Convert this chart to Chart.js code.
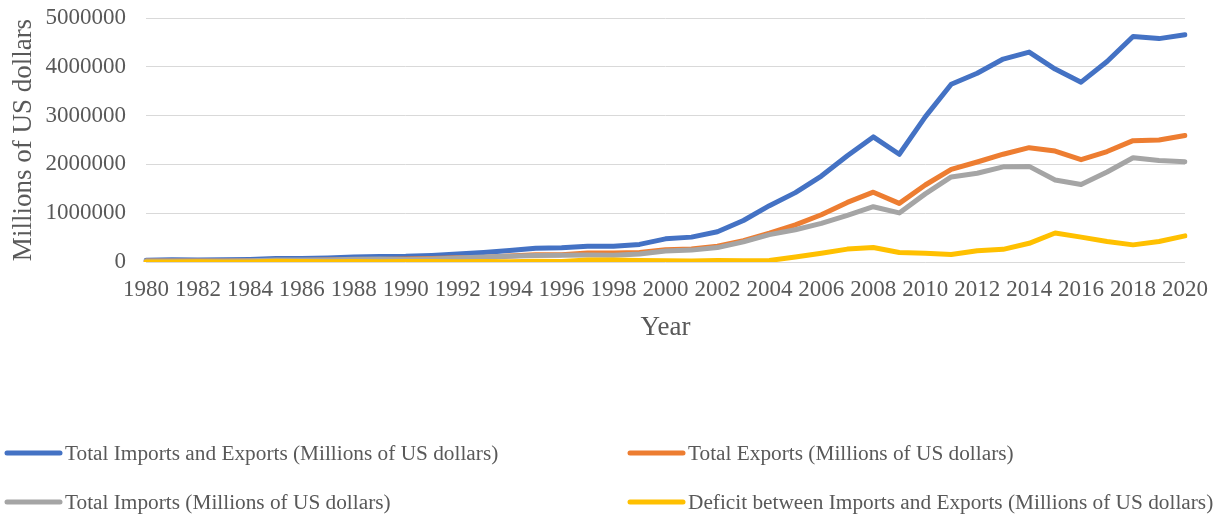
<!DOCTYPE html>
<html>
<head>
<meta charset="utf-8">
<script src="https://cdn.jsdelivr.net/npm/chart.js@4.4.0/dist/chart.umd.min.js"></script>
<style>
  html, body { margin: 0; padding: 0; background: #fff; }
  #wrap { width: 1218px; height: 516px; position: relative; }
</style>
</head>
<body>
<div id="wrap"><canvas id="trade"></canvas></div>
<script>
const years = [];
for (let y = 1980; y <= 2020; y++) years.push(String(y));

// Millions of US dollars
const totalTrade = [38136, 44022, 41606, 43616, 53549, 69602, 73846, 82653, 102791, 111678,
  115436, 135634, 165525, 195703, 236620, 280864, 289881, 325162, 323949, 360630,
  474297, 509651, 620766, 850988, 1154554, 1421906, 1760438, 2176175, 2563255, 2207535,
  2974001, 3641864, 3867119, 4158993, 4301527, 3953033, 3685557, 4107138, 4622444, 4577891,
  4655906];
const exportsData = [18119, 22007, 22321, 22226, 26139, 27350, 30942, 39437, 47516, 52538,
  62091, 71843, 84940, 91744, 121006, 148780, 151048, 182792, 183712, 194931,
  249203, 266098, 325596, 438228, 593326, 761953, 968978, 1220456, 1430693, 1201612,
  1577754, 1898381, 2048714, 2209004, 2342293, 2273468, 2097631, 2263345, 2486695, 2499482,
  2590646];
const importsData = [20017, 22015, 19285, 21390, 27410, 42252, 42904, 43216, 55275, 59140,
  53345, 63791, 80585, 103959, 115614, 132084, 138833, 142370, 140237, 165699,
  225094, 243553, 295170, 412760, 561229, 659953, 791461, 956116, 1132562, 1005923,
  1396247, 1743484, 1818405, 1949989, 1959235, 1679564, 1587926, 1843793, 2135748, 2078409,
  2055612];
const deficitData = [1898, 8, 3036, 836, 1271, 14902, 11962, 3779, 7759, 6602,
  8746, 8052, 4355, 12215, 5392, 16696, 12215, 40422, 43475, 29232,
  24109, 22545, 30426, 25468, 32097, 102000, 177517, 264340, 298131, 195689,
  181507, 154897, 230309, 259015, 383058, 593904, 509705, 419552, 350947, 421073,
  535034];

const seriesNames = [
  'Total Imports and Exports (Millions of US dollars)',
  'Total Exports (Millions of US dollars)',
  'Total Imports (Millions of US dollars)',
  'Deficit between Imports and Exports (Millions of US dollars)'
];
const seriesColors = ['#4472C4', '#ED7D31', '#A5A5A5', '#FFC000'];
const yTicks = [0, 1000000, 2000000, 3000000, 4000000, 5000000];

const FONT = '"Liberation Serif", "Times New Roman", serif';
const TEXT = '#595959';

// two-column legend under the plot, Excel style
const gridLegend = {
  id: 'gridLegend',
  afterDraw(chart, args, opts) {
    const ctx = chart.ctx;
    ctx.save();
    ctx.font = opts.size + 'px ' + FONT;
    ctx.textBaseline = 'middle';
    ctx.fillStyle = TEXT;
    chart.data.datasets.forEach((ds, i) => {
      const x = opts.cols[i % 2];
      const y = opts.rows[Math.floor(i / 2)];
      ctx.strokeStyle = ds.borderColor;
      ctx.lineWidth = 5;
      ctx.lineCap = 'round';
      ctx.beginPath();
      ctx.moveTo(x + 2, y);
      ctx.lineTo(x + opts.sample - 2, y);
      ctx.stroke();
      ctx.fillText(ds.label, x + opts.sample + 3, y + 1);
    });
    ctx.restore();
  }
};

const datasets = [totalTrade, exportsData, importsData, deficitData].map((vals, i) => ({
  label: seriesNames[i],
  data: vals,
  borderColor: seriesColors[i],
  backgroundColor: seriesColors[i],
  borderWidth: 5,
  borderCapStyle: 'round',
  borderJoinStyle: 'round',
  pointRadius: 0,
  tension: 0,
  fill: false,
  order: 3 - i
}));

new Chart(document.getElementById('trade'), {
  type: 'line',
  data: { labels: years, datasets: datasets },
  plugins: [gridLegend],
  options: {
    responsive: true,
    maintainAspectRatio: false,
    animation: false,
    layout: { padding: { top: 18, right: 33, bottom: 172, left: 0 } },
    plugins: {
      legend: { display: false },
      tooltip: { enabled: false },
      gridLegend: { size: 21.3, cols: [5, 628], rows: [453, 502], sample: 57 }
    },
    scales: {
      x: {
        grid: { display: false },
        border: { display: false },
        ticks: {
          autoSkip: false,
          maxRotation: 0,
          padding: 6,
          color: TEXT,
          font: { family: FONT, size: 23 },
          callback: (v, i) => (i % 2 === 0 ? years[i] : '')
        },
        title: {
          display: true,
          text: 'Year',
          color: TEXT,
          font: { family: FONT, size: 27 },
          padding: { top: 4, bottom: 0 }
        },
        afterFit: s => { s.height = 82; }
      },
      y: {
        min: 0,
        max: 5000000,
        afterBuildTicks: s => { s.ticks = yTicks.map(v => ({ value: v })); },
        grid: { color: '#D9D9D9', lineWidth: 1, drawTicks: false },
        border: { display: false },
        ticks: {
          padding: 20,
          color: TEXT,
          font: { family: FONT, size: 23 },
          callback: v => String(v)
        },
        title: {
          display: true,
          text: 'Millions of US dollars',
          color: TEXT,
          font: { family: FONT, size: 27 },
          padding: { top: 8, bottom: 0 }
        },
        afterFit: s => {
          s.width = 146;
          // keep the tick padding from pushing the plot top down
          s.paddingTop = 0;
          s.paddingBottom = 0;
        }
      }
    }
  }
});
</script>
</body>
</html>
